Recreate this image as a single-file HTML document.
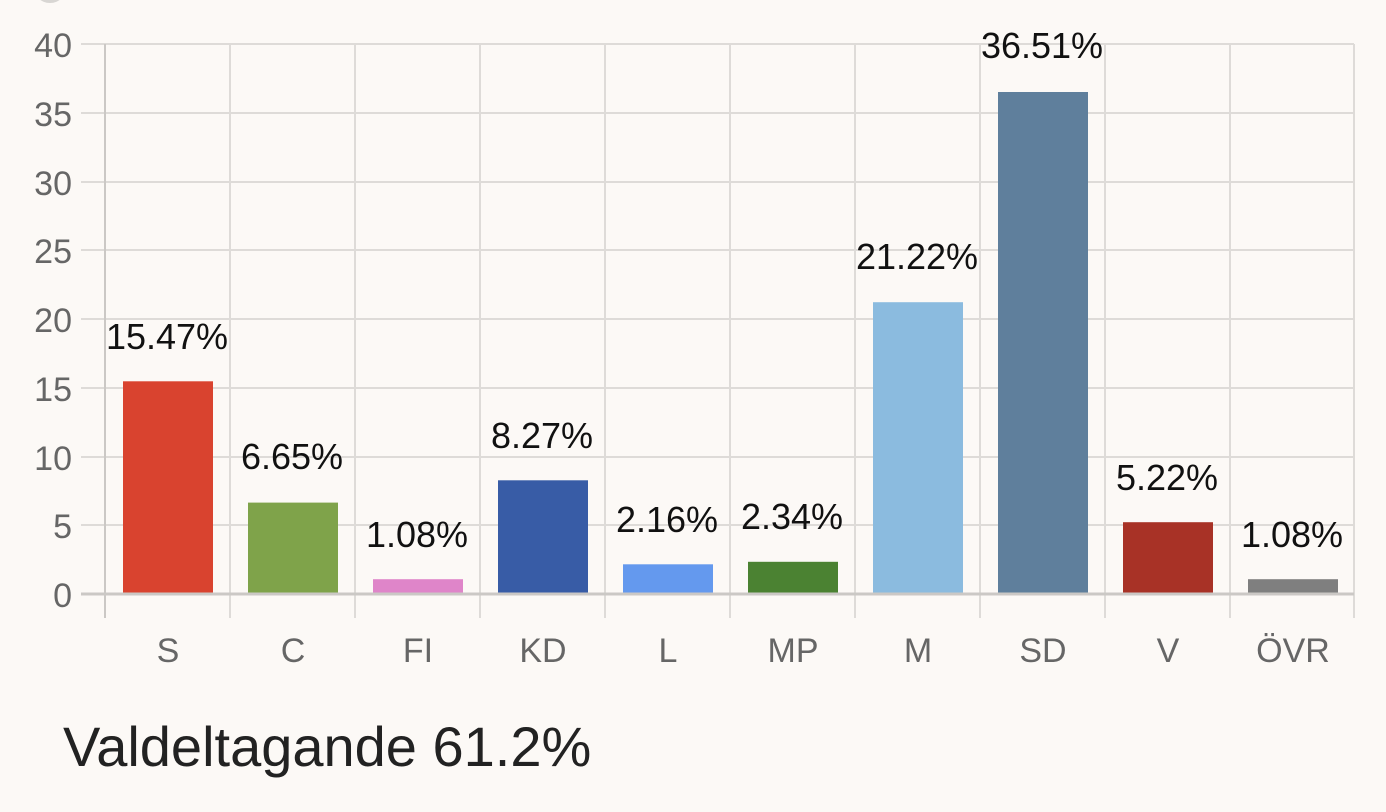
<!DOCTYPE html>
<html><head><meta charset="utf-8"><style>
html,body{margin:0;padding:0;background:#fcf9f6;}
svg{display:block;}
</style></head><body>
<svg width="1386" height="812" xmlns="http://www.w3.org/2000/svg" font-family="Liberation Sans, sans-serif">
<rect width="1386" height="812" fill="#fcf9f6"/>
<circle cx="50" cy="-14" r="17" fill="#d8d6d3"/>
<g stroke="#dedbd8" stroke-width="2">
<line x1="81" y1="44" x2="1354" y2="44"/><line x1="81" y1="113" x2="1354" y2="113"/>
<line x1="81" y1="182" x2="1354" y2="182"/><line x1="81" y1="250" x2="1354" y2="250"/>
<line x1="81" y1="319" x2="1354" y2="319"/><line x1="81" y1="388" x2="1354" y2="388"/>
<line x1="81" y1="457" x2="1354" y2="457"/><line x1="81" y1="525" x2="1354" y2="525"/>
<line x1="230" y1="44" x2="230" y2="618"/><line x1="355" y1="44" x2="355" y2="618"/>
<line x1="480" y1="44" x2="480" y2="618"/><line x1="605" y1="44" x2="605" y2="618"/>
<line x1="730" y1="44" x2="730" y2="618"/><line x1="855" y1="44" x2="855" y2="618"/>
<line x1="980" y1="44" x2="980" y2="618"/><line x1="1105" y1="44" x2="1105" y2="618"/>
<line x1="1230" y1="44" x2="1230" y2="618"/><line x1="1354" y1="44" x2="1354" y2="618"/>
</g>
<line x1="105" y1="44" x2="105" y2="618" stroke="#cbc8c5" stroke-width="2"/>
<g>
<rect x="123" y="381.3" width="90" height="212.7" fill="#d9432f"/>
<rect x="248" y="502.6" width="90" height="91.4" fill="#7fa34a"/>
<rect x="373" y="579.2" width="90" height="14.8" fill="#df85c9"/>
<rect x="498" y="480.3" width="90" height="113.7" fill="#385ca6"/>
<rect x="623" y="564.3" width="90" height="29.7" fill="#6499ee"/>
<rect x="748" y="561.8" width="90" height="32.2" fill="#4b8232"/>
<rect x="873" y="302.2" width="90" height="291.8" fill="#8bbbdf"/>
<rect x="998" y="92" width="90" height="502" fill="#5f7f9c"/>
<rect x="1123" y="522.2" width="90" height="71.8" fill="#a83226"/>
<rect x="1248" y="579.2" width="90" height="14.8" fill="#7f7f7f"/>
</g>
<line x1="81" y1="594" x2="1354" y2="594" stroke="#cbc8c5" stroke-width="3"/>
<g fill="#666" font-size="34" text-anchor="end">
<text x="72" y="57">40</text><text x="72" y="126">35</text><text x="72" y="195">30</text>
<text x="72" y="263">25</text><text x="72" y="332">20</text><text x="72" y="401">15</text>
<text x="72" y="470">10</text><text x="72" y="538">5</text><text x="72" y="607">0</text>
</g>
<g fill="#666" font-size="34" text-anchor="middle">
<text x="168" y="662">S</text><text x="293" y="662">C</text><text x="418" y="662">FI</text>
<text x="543" y="662">KD</text><text x="668" y="662">L</text><text x="793" y="662">MP</text>
<text x="918" y="662">M</text><text x="1043" y="662">SD</text><text x="1168" y="662">V</text>
<text x="1293" y="662">ÖVR</text>
</g>
<g fill="#111" font-size="36" text-anchor="middle">
<text x="167" y="349">15.47%</text><text x="292" y="469">6.65%</text><text x="417" y="547">1.08%</text>
<text x="542" y="448">8.27%</text><text x="667" y="532">2.16%</text><text x="792" y="529">2.34%</text>
<text x="917" y="269">21.22%</text><text x="1042" y="58">36.51%</text><text x="1167" y="490">5.22%</text>
<text x="1292" y="547">1.08%</text>
</g>
<text x="63" y="766" fill="#222" font-size="56">Valdeltagande 61.2%</text>
</svg>
</body></html>
